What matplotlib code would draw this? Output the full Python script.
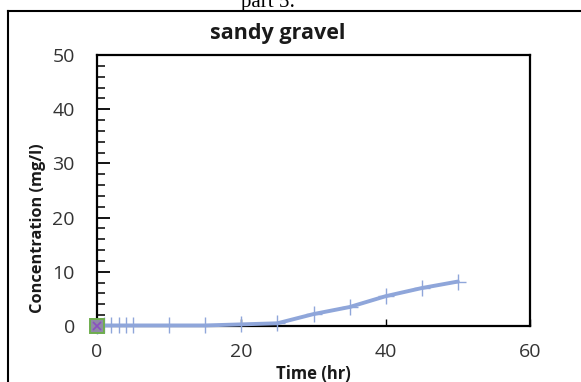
import matplotlib
matplotlib.use("Agg")
import matplotlib.pyplot as plt
from matplotlib.lines import Line2D
from matplotlib.ticker import MultipleLocator

time_hr = [0, 1, 2, 3, 4, 5, 10, 15, 20, 25, 30, 35, 40, 45, 50]
conc = [0.0, 0.1, 0.1, 0.1, 0.1, 0.1, 0.1, 0.1, 0.3, 0.5, 2.2, 3.5, 5.5, 7.0, 8.2]
origin_x = [0]
origin_y = [0]
title = "sandy gravel"
xlabel = "Time (hr)"
ylabel = "Concentration (mg/l)"

W, H = 581, 382
fig = plt.figure(figsize=(W / 100, H / 100), dpi=100)

# plot area in pixels: left 97, right 530, top 55, bottom 326
ax = fig.add_axes([97 / W, 1 - 326 / H, (530 - 97) / W, (326 - 55) / H])
ax.set_xlim(0, 60)
ax.set_ylim(0, 50)

line_col = "#8FA6DA"
ax.plot(time_hr, conc, color=line_col, lw=2.8, marker="+", ms=11, mew=1.0,
        solid_capstyle="round", zorder=3, clip_on=False)
ax.plot(origin_x, origin_y, marker="s", ms=10.5, mfc="#8F8AA6", mec="#6FAE4E",
        mew=1.4, ls="none", zorder=4, clip_on=False)
ax.plot(origin_x, origin_y, marker="x", ms=6, mec="#8A4FC0", mew=1.2,
        ls="none", zorder=5, clip_on=False)

ax.xaxis.set_major_locator(MultipleLocator(20))
ax.yaxis.set_major_locator(MultipleLocator(10))
ax.yaxis.set_minor_locator(MultipleLocator(2))
ax.tick_params(axis="y", which="major", direction="in", length=9, width=1.3,
               color="black", labelsize=14, labelcolor="#333333", pad=16)
ax.tick_params(axis="y", which="minor", direction="in", length=6, width=1.1,
               color="black")
ax.tick_params(axis="x", which="major", direction="in", length=5, width=1.0,
               color="black", labelsize=14, labelcolor="#333333", pad=12)
for lab in ax.get_xticklabels() + ax.get_yticklabels():
    lab.set_family("Open Sans")
for s in ax.spines.values():
    s.set_linewidth(1.6)
    s.set_color("black")

fig.text(278 / W, 1 - 33 / H, title, ha="center", va="center", fontsize=15.5,
         fontweight="bold", family="Open Sans", color="#1a1a1a")
fig.text(313 / W, 1 - 374 / H, xlabel, ha="center", va="center", fontsize=12,
         fontweight="bold", family="Open Sans", color="#1a1a1a")
fig.text(38 / W, 1 - 228 / H, ylabel, ha="center", va="center", fontsize=11.8,
         fontweight="bold", family="Open Sans", color="#1a1a1a", rotation=90)

# caption partly cut at the top (as in the reference)
fig.text(268 / W, 1 - 3 / H, "part 5:", ha="center", va="center", fontsize=15,
         family="Liberation Serif", color="black")

# outer frame
fig.add_artist(Line2D([8 / W, 8 / W], [0, 1 - 11 / H], transform=fig.transFigure,
                      color="black", lw=1.5))
fig.add_artist(Line2D([8 / W, 1], [1 - 11 / H, 1 - 11 / H], transform=fig.transFigure,
                      color="black", lw=1.5))

fig.savefig("out.png", dpi=100)
